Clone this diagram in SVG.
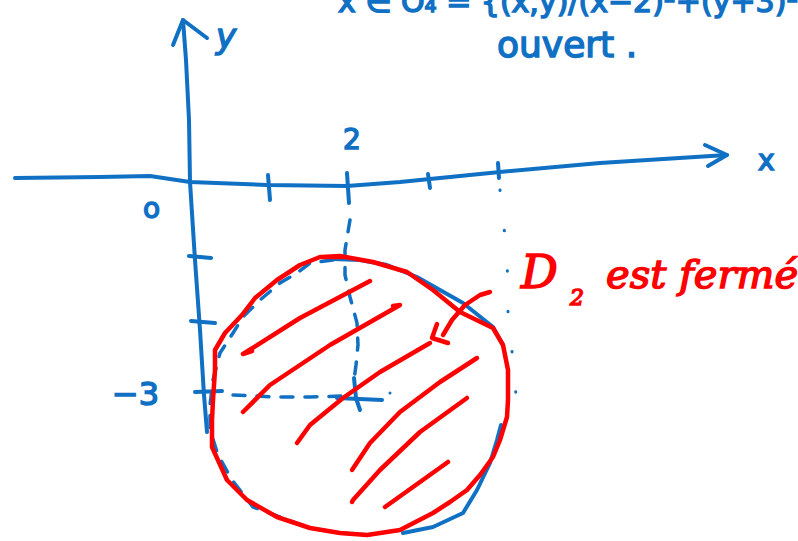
<svg xmlns="http://www.w3.org/2000/svg" width="798" height="541" viewBox="0 0 798 541">
<style>
.b{fill:none;stroke:#1070c4;stroke-width:4;stroke-linecap:round;stroke-linejoin:round}
.bd{fill:none;stroke:#1070c4;stroke-width:3.5;stroke-linecap:round;stroke-dasharray:12 12}
.dot{fill:none;stroke:#1070c4;stroke-width:3;stroke-linecap:round;stroke-dasharray:0.5 40}
.r{fill:none;stroke:#ff0000;stroke-width:4.5;stroke-linecap:round;stroke-linejoin:round}
.tb{font-family:"DejaVu Sans",sans-serif;fill:#1070c4;stroke:#1070c4;stroke-width:1.5}
.tr{font-family:"DejaVu Serif",serif;font-style:italic;fill:#ff0000;stroke:#ff0000;stroke-width:1.5}
</style>
<rect width="798" height="541" fill="#fff"/>

<g id="top-text">
<text x="298" y="6" font-family="DejaVu Sans,sans-serif" font-size="30" fill="#16b040">•</text>
<text class="tb" x="338" y="12" font-size="30">x ∈ O₄ = {(x,y)/(x−2)²+(y+3)² &lt; 4} est</text>
<text class="tb" x="497" y="57" font-size="36">ouvert .</text>
</g>

<g id="axes">
<path class="b" d="M207,432 L204,395 L200,330 L195,260 L190,182 L189,120 L186,60 L183,20"/>
<path class="b" d="M173,45 L183,20 L207,38"/>
<path class="b" d="M15,178 L100,177 L150,176 L190,182 L267,185 L347,186 L400,182 L500,172 L600,163 L727,155"/>
<path class="b" d="M705,145 L727,155 L708,166"/>
<path class="b" d="M268,175 L270,200"/>
<path class="b" d="M347,173 L349,203"/>
<path class="b" d="M428,174 L430,188"/>
<path class="b" d="M498,163 L499,178"/>
<path class="b" d="M189,256 L211,258"/>
<path class="b" d="M191,321 L215,323"/>
<path class="b" d="M195,392 L222,391"/>
<text class="tb" x="216" y="48" font-size="34" font-style="italic">y</text>
<text class="tb" x="758" y="170" font-size="28">x</text>
<text class="tb" x="343" y="149" font-size="28">2</text>
<text class="tb" x="143" y="218" font-size="28">o</text>
<text class="tb" x="112" y="405" font-size="32">−3</text>
</g>

<g id="guides">
<path class="bd" d="M350,220 L345,250 L345,275 L350,297 L357,323 L358,345 L356,365 L354,380"/>
<path class="bd" d="M233,395 L277,397 L310,397 L345,396"/>
<path class="dot" d="M500,190 L505,237 L508,280 L508,318 L513,360 L517,407"/>
<path class="b" d="M354,378 L356,398 L360,410"/>
<path class="b" d="M337,398 L382,400"/>
<circle cx="390" cy="393" r="1.5" fill="#1070c4"/>
</g>

<g id="blue-circle">
<path class="b" d="M333,259 L360,260 L387,265 L417,277 L440,290 L463,303 L493,327 L503,345"/>
<path class="bd" d="M333,260 L310,263 L297,273 L280,283 L260,300 L243,317 L233,333 L220,353 L213,380 L210,405 L210,430 L218,455 L232,480 L253,507 L280,517 L310,528 L340,533 L370,535"/>
<path class="b" d="M403,533 L433,527 L463,513 L477,490 L490,463 L497,440 L501,425"/>
</g>

<g id="red-circle">
<path class="r" d="M322,257 L340,256 L373,262 L407,272 L433,290 L460,312 L493,328 L503,345 L508,370 L508,400 L507,417 L500,440 L493,457 L480,475 L467,490 L450,502 L433,513 L400,530 L367,535 L340,533 L310,528 L277,517 L247,500 L227,480 L212,447 L212,420 L213,400 L215,370 L215,350 L225,333 L242,315 L255,298 L277,280 L300,265 L320,257 L345,257"/>
</g>

<g id="hatching">
<path class="r" d="M370,281 L300,318 L243,354 L252,351"/>
<path class="r" d="M393,306 L400,305 L330,345 L270,385 L243,412"/>
<path class="r" d="M430,343 L380,372 L343,398 L310,425 L297,443"/>
<path class="r" d="M477,358 L440,382 L400,412 L370,443 L352,470"/>
<path class="r" d="M467,398 L420,432 L380,470 L353,500 L352,502"/>
<path class="r" d="M448,462 L420,482 L385,507"/>
</g>

<g id="label">
<path class="r" d="M490,292 L480,295 L465,305 L452,320 L443,335"/>
<path class="r" d="M437,324 L432,338 L448,343"/>
<text class="tr" x="521" y="288" font-size="46">D</text>
<text class="tr" x="570" y="305" font-size="22">2</text>
<text class="tr" x="606" y="288" font-size="40">est fermé</text>
</g>
</svg>
